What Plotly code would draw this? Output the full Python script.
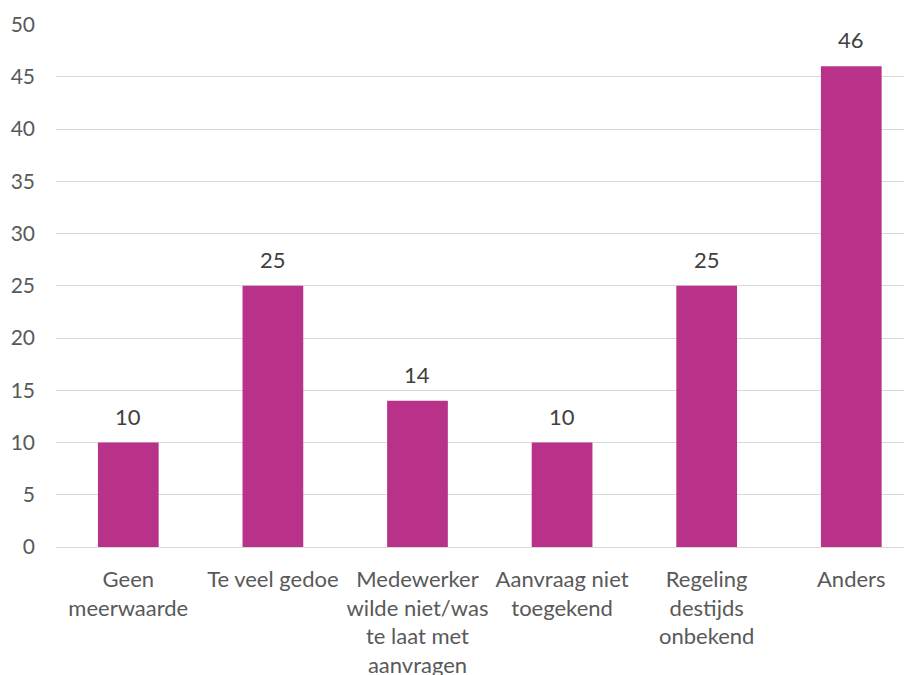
import plotly.graph_objects as go

categories = [
    "Geen<br>meerwaarde",
    "Te veel gedoe",
    "Medewerker<br>wilde niet/was<br>te laat met<br>aanvragen",
    "Aanvraag niet<br>toegekend",
    "Regeling<br>destijds<br>onbekend",
    "Anders",
]
values = [10, 25, 14, 10, 25, 46]
y_ticks = [0, 5, 10, 15, 20, 25, 30, 35, 40, 45, 50]

FONT = "Lato, 'Open Sans', sans-serif"
x_pos = list(range(len(categories)))

fig = go.Figure(
    go.Bar(
        x=x_pos,
        y=values,
        width=0.42,
        marker=dict(color="#B8328A", line=dict(width=0)),
        hoverinfo="skip",
    )
)

for xi, v in zip(x_pos, values):
    fig.add_annotation(
        x=xi, y=v, text=str(v), showarrow=False,
        yanchor="bottom", yshift=11,
        font=dict(family=FONT, size=22, color="#404040"),
    )

fig.update_layout(
    width=912,
    height=675,
    margin=dict(l=48, r=8, t=16, b=136),
    paper_bgcolor="white",
    plot_bgcolor="white",
    showlegend=False,
    font=dict(family=FONT, size=22, color="#595959"),
    xaxis=dict(
        tickmode="array",
        tickvals=x_pos,
        ticktext=categories,
        range=[-0.5, 5.42],
        showgrid=False,
        zeroline=False,
        showline=False,
        ticks="",
        tickfont=dict(family=FONT, size=22, color="#595959"),
        ticklabelstandoff=17,
        automargin=False,
    ),
    yaxis=dict(
        range=[0, 50.05],
        tickmode="array",
        tickvals=y_ticks,
        showgrid=True,
        gridcolor="#D9D9D9",
        gridwidth=1.3,
        zeroline=True,
        zerolinecolor="#D9D9D9",
        zerolinewidth=1.3,
        showline=False,
        ticks="",
        tickfont=dict(family=FONT, size=21, color="#595959"),
        ticklabelstandoff=20,
        automargin=False,
    ),
)

fig.write_html("out.html")
